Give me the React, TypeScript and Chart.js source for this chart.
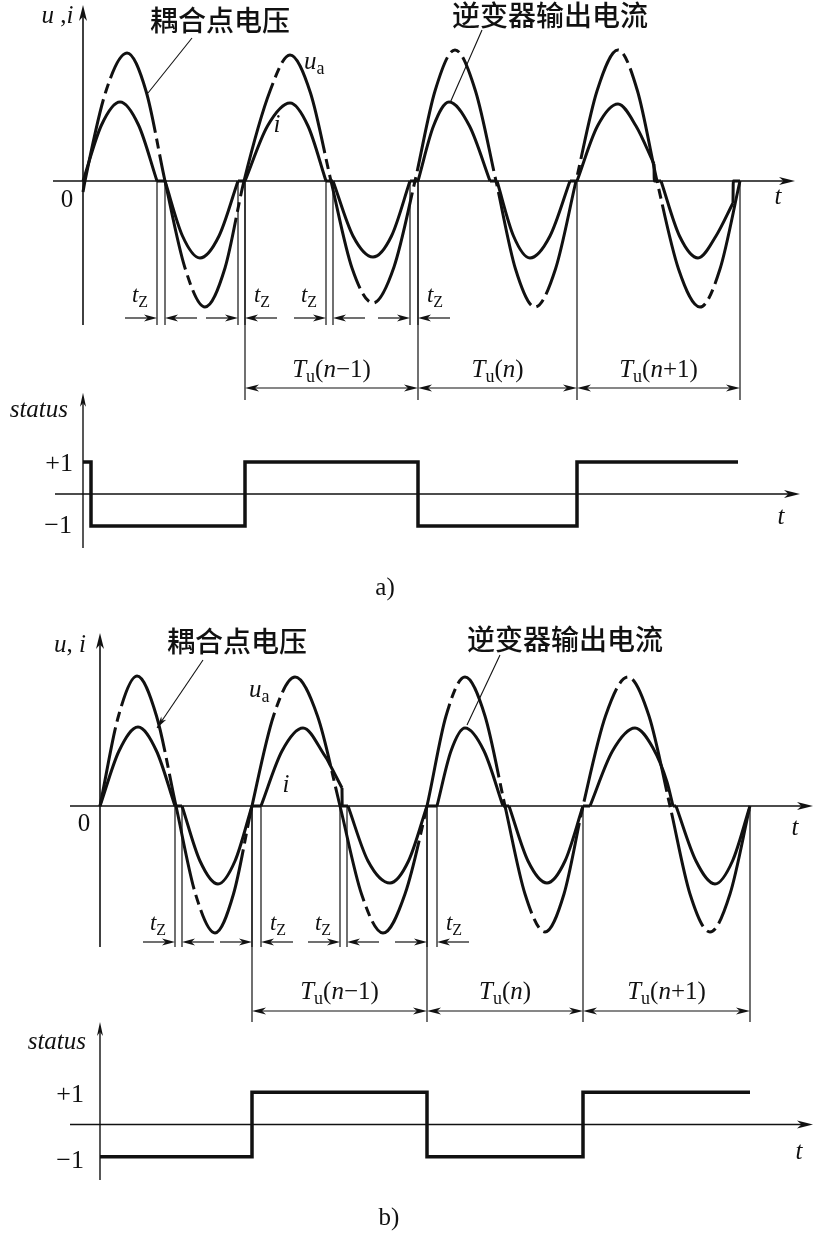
import React, { useEffect, useRef } from "react";
import { Chart, registerables } from "chart.js";

Chart.register(...registerables);

const INK = "#111";
const SERIF = '"Liberation Serif", "Times New Roman", serif';
const CJK = '"Noto Sans CJK SC", "Noto Sans", sans-serif';

// ---------------- panel a) data (t in arbitrary time units) ----------------
const A_U_T = [0, 0.2, 2.3, 4.4, 6.3, 8.2, 10.2, 12.2, 14.2, 16.1, 18.7, 20.7, 22.75, 24.8, 26.9, 29.0, 31.1, 33.2, 35.2, 37.2, 39.25, 41.3, 43.25, 45.2, 47.25, 49.3, 51.4, 53.5, 55.45, 57.4, 59.55, 61.7, 63.7, 65.7];
const A_U_V = [-0.11, 0, 0.9, 1.28, 0.9, 0, -0.87, -1.26, -0.87, 0, 0.9, 1.26, 0.88, 0, -0.87, -1.22, -0.86, 0, 0.9, 1.31, 0.9, 0, -0.88, -1.26, -0.88, 0, 0.9, 1.31, 0.9, 0, -0.88, -1.26, -0.88, 0];

const A_I_T = [
  0, 1.85, 3.7, 5.55, 7.4, 7.4, 7.4, 8.2, 8.2,
  8.2, 9.95, 11.7, 13.6, 15.5, 15.5, 15.5, 16.2, 16.2,
  16.2, 18.45, 20.7, 22.5, 24.3, 24.3, 24.3, 25.0, 25.0,
  25.0, 27.0, 29.0, 30.85, 32.7, 32.7, 32.7, 33.5, 33.5,
  33.5, 35.05, 36.6, 38.65, 40.7, 40.7, 40.7, 41.4, 41.4,
  41.4, 43.05, 44.7, 46.7, 48.7, 48.7, 48.7, 49.4, 49.4,
  49.4, 51.45, 53.5, 55.3, 57.1, 57.1, 57.1, 57.13, 57.8, 57.8,
  57.8, 59.65, 61.5, 63.3, 65.0, 65.0, 65.0, 65.03, 65.7,
];
const A_I_V = [
  0, 0.56, 0.79, 0.56, 0, null, 0, 0, null,
  0, -0.55, -0.77, -0.55, 0, null, 0, 0, null,
  0, 0.55, 0.78, 0.55, 0, null, 0, 0, null,
  0, -0.55, -0.76, -0.55, 0, null, 0, 0, null,
  0, 0.55, 0.79, 0.55, 0, null, 0, 0, null,
  0, -0.55, -0.77, -0.55, 0, null, 0, 0, null,
  0, 0.55, 0.77, 0.55, 0.17, null, 0.17, 0, 0, null,
  0, -0.55, -0.77, -0.55, -0.22, null, -0.22, 0, 0,
];
const A_TZ = [7.4, 8.2, 15.5, 16.2, 24.3, 25.0, 32.7, 33.5];
const A_TU = [16.2, 33.5, 49.4, 65.7];
const A_S_T = [0, 0.8, 16.2, 33.5, 49.4, 65.5];
const A_S_V = [1, -1, 1, -1, 1, 1];

// ---------------- panel b) data ----------------
const B_U_T = [0, 1.85, 3.7, 5.65, 7.6, 9.55, 11.5, 13.35, 15.2, 17.35, 19.5, 21.75, 24.0, 26.15, 28.3, 30.5, 32.7, 34.6, 36.5, 38.5, 40.5, 42.5, 44.5, 46.4, 48.3, 50.55, 52.8, 54.9, 57.0, 59.0, 61.0, 63.0, 65.0];
const B_U_V = [0, 0.9, 1.3, 0.9, 0, -0.88, -1.27, -0.88, 0, 0.9, 1.29, 0.9, 0, -0.88, -1.27, -0.88, 0, 0.9, 1.29, 0.9, 0, -0.88, -1.26, -0.88, 0, 0.9, 1.29, 0.9, 0, -0.88, -1.26, -0.88, 0];

const B_I_T = [
  0, 1.9, 3.8, 5.65, 7.5, 7.5, 7.5, 8.2, 8.2,
  8.2, 10.0, 11.8, 13.5, 15.2, 15.2, 15.2, 16.1, 16.1,
  16.1, 18.2, 20.3, 22.7, 22.7, 22.7, 24.2, 24.2, 24.2, 24.22, 24.8, 24.8,
  24.8, 26.8, 29.0, 30.85, 32.7, 32.7, 32.7, 33.7, 33.7,
  33.7, 35.1, 36.5, 38.4, 40.3, 40.3, 40.3, 40.9, 40.9,
  40.9, 42.8, 44.7, 46.5, 48.3, 48.3, 48.3, 49.0, 49.0,
  49.0, 51.25, 53.5, 55.3, 56.7, 57.3, 57.3, 57.3, 57.6, 57.6,
  57.6, 59.6, 61.5, 63.25, 65.0,
];
const B_I_V = [
  0, 0.55, 0.79, 0.55, 0, null, 0, 0, null,
  0, -0.55, -0.78, -0.55, 0, null, 0, 0, null,
  0, 0.55, 0.78, 0.47, null, 0.47, 0.18, null, 0.18, 0, 0, null,
  0, -0.55, -0.77, -0.55, 0, null, 0, 0, null,
  0, 0.55, 0.78, 0.55, 0, null, 0, 0, null,
  0, -0.55, -0.77, -0.55, 0, null, 0, 0, null,
  0, 0.55, 0.78, 0.58, 0.24, 0, null, 0, 0, null,
  0, -0.55, -0.78, -0.55, 0,
];
const B_TZ = [7.5, 8.2, 15.2, 16.1, 24.0, 24.7, 32.7, 33.7];
const B_TU = [15.2, 32.7, 48.3, 65.0];
const B_S_T = [0, 15.2, 32.7, 48.3, 65.0];
const B_S_V = [-1, 1, -1, 1, 1];

// ---------------- labels ----------------
const CJK_LABELS = ["耦合点电压", "逆变器输出电流"];
const TU_ARGS = [["n", "−1"], ["n", ""], ["n", "+1"]];
const STATUS_TICKS = ["+1", "−1"];

type Part = { s: string; it?: boolean; sub?: boolean };

function pts(T: number[], V: (number | null)[]) {
  return T.map((t, k) => ({ x: t, y: V[k] }));
}

function seg(ctx: CanvasRenderingContext2D, x1: number, y1: number, x2: number, y2: number, w: number) {
  ctx.lineWidth = w;
  ctx.beginPath();
  ctx.moveTo(x1, y1);
  ctx.lineTo(x2, y2);
  ctx.stroke();
}

function head(ctx: CanvasRenderingContext2D, x: number, y: number, ang: number, len = 13, hw = 3.5) {
  const c = Math.cos(ang), s = Math.sin(ang);
  const bx = x - c * len, by = y - s * len;
  const nx = x - c * len * 0.72, ny = y - s * len * 0.72;
  ctx.beginPath();
  ctx.moveTo(x, y);
  ctx.lineTo(bx - s * hw, by + c * hw);
  ctx.lineTo(nx, ny);
  ctx.lineTo(bx + s * hw, by - c * hw);
  ctx.closePath();
  ctx.fill();
}

function rich(ctx: CanvasRenderingContext2D, parts: Part[], x: number, y: number, size: number, align = "center") {
  const font = (p: Part) => `${p.it ? "italic " : ""}${p.sub ? Math.round(size * 0.7) : size}px ${SERIF}`;
  const ws = parts.map((p) => {
    ctx.font = font(p);
    return ctx.measureText(p.s).width;
  });
  const w = ws.reduce((a, b) => a + b, 0);
  let cx = align === "center" ? x - w / 2 : align === "right" ? x - w : x;
  ctx.textAlign = "left";
  ctx.textBaseline = "middle";
  parts.forEach((p, k) => {
    ctx.font = font(p);
    ctx.fillText(p.s, cx, p.sub ? y + size * 0.3 : y);
    cx += ws[k];
  });
}

type TopCfg = {
  xAxis: [number, number];
  yAxis: [number, number];
  ui: [number, number];
  uiParts: Part[];
  zero: [number, number];
  tLab: [number, number];
  cjk: { t: number; v: number; from: [number, number]; to: [number, number]; arrow: boolean }[];
  ua: [number, number];
  iLab: [number, number];
  tz: number[];
  tzBottom: number;
  tzArrowV: number;
  tzLabelV: number;
  tu: number[];
  tuBottom: number;
  tuArrowV: number;
  tuLabelV: number;
};

function drawTop(c: any, cfg: TopCfg, over: boolean) {
  const ctx: CanvasRenderingContext2D = c.ctx;
  const X = (t: number) => c.scales.x.getPixelForValue(t);
  const Y = (v: number) => c.scales.y.getPixelForValue(v);
  ctx.save();
  ctx.strokeStyle = INK;
  ctx.fillStyle = INK;
  if (!over) {
    seg(ctx, X(cfg.xAxis[0]), Y(0), X(cfg.xAxis[1]) - 6, Y(0), 1.4);
    head(ctx, X(cfg.xAxis[1]), Y(0), 0, 16, 4);
    seg(ctx, X(0), Y(cfg.yAxis[1]), X(0), Y(cfg.yAxis[0]) + 6, 1.6);
    head(ctx, X(0), Y(cfg.yAxis[0]), -Math.PI / 2, 16, 4);
    cfg.tz.forEach((t) => seg(ctx, X(t), Y(0), X(t), Y(cfg.tzBottom), 1.2));
    cfg.tu.forEach((t) => seg(ctx, X(t), Y(0), X(t), Y(cfg.tuBottom), 1.2));
    ctx.restore();
    return;
  }
  // t_z dimension arrows
  for (let k = 0; k < cfg.tz.length; k += 2) {
    const a = X(cfg.tz[k]);
    const b = X(cfg.tz[k + 1]);
    const y = Y(cfg.tzArrowV);
    seg(ctx, a - 32, y, a - 4, y, 1.2);
    head(ctx, a, y, 0, 13, 3.5);
    seg(ctx, b + 32, y, b + 4, y, 1.2);
    head(ctx, b, y, Math.PI, 13, 3.5);
    const lx = (k / 2) % 2 === 0 ? a - 17 : b + 17;
    rich(ctx, [{ s: "t", it: true }, { s: "Z", sub: true }], lx, Y(cfg.tzLabelV), 23);
  }
  // T_u dimension arrows
  for (let k = 0; k < cfg.tu.length - 1; k++) {
    const a = X(cfg.tu[k]);
    const b = X(cfg.tu[k + 1]);
    const y = Y(cfg.tuArrowV);
    seg(ctx, a + 4, y, b - 4, y, 1.2);
    head(ctx, a, y, Math.PI, 14, 3.5);
    head(ctx, b, y, 0, 14, 3.5);
    const [n, rest] = TU_ARGS[k];
    rich(
      ctx,
      [{ s: "T", it: true }, { s: "u", sub: true }, { s: "(" }, { s: n, it: true }, { s: rest }, { s: ")" }],
      (a + b) / 2,
      Y(cfg.tuLabelV),
      25
    );
  }
  rich(ctx, cfg.uiParts, X(cfg.ui[0]), Y(cfg.ui[1]), 25);
  rich(ctx, [{ s: "0" }], X(cfg.zero[0]), Y(cfg.zero[1]), 25);
  rich(ctx, [{ s: "t", it: true }], X(cfg.tLab[0]), Y(cfg.tLab[1]), 25);
  rich(ctx, [{ s: "u", it: true }, { s: "a", sub: true }], X(cfg.ua[0]), Y(cfg.ua[1]), 25, "left");
  rich(ctx, [{ s: "i", it: true }], X(cfg.iLab[0]), Y(cfg.iLab[1]), 25);
  cfg.cjk.forEach((l, k) => {
    ctx.font = `500 28px ${CJK}`;
    ctx.textAlign = "center";
    ctx.textBaseline = "middle";
    ctx.fillText(CJK_LABELS[k], X(l.t), Y(l.v));
    const x1 = X(l.from[0]), y1 = Y(l.from[1]), x2 = X(l.to[0]), y2 = Y(l.to[1]);
    seg(ctx, x1, y1, x2, y2, 1.1);
    if (l.arrow) head(ctx, x2, y2, Math.atan2(y2 - y1, x2 - x1), 12, 3);
  });
  ctx.restore();
}

type StatusCfg = {
  xAxis: [number, number];
  yAxis: [number, number];
  status: [number, number];
  plus: [number, number];
  minus: [number, number];
  tLab: [number, number];
  cap: [number, number];
  capText: string;
};

function drawStatus(c: any, cfg: StatusCfg, over: boolean) {
  const ctx: CanvasRenderingContext2D = c.ctx;
  const X = (t: number) => c.scales.x.getPixelForValue(t);
  const Y = (v: number) => c.scales.y.getPixelForValue(v);
  ctx.save();
  ctx.strokeStyle = INK;
  ctx.fillStyle = INK;
  if (!over) {
    seg(ctx, X(cfg.xAxis[0]), Y(0), X(cfg.xAxis[1]) - 6, Y(0), 1.5);
    head(ctx, X(cfg.xAxis[1]), Y(0), 0, 16, 4);
    seg(ctx, X(0), Y(cfg.yAxis[1]), X(0), Y(cfg.yAxis[0]) + 6, 1.4);
    head(ctx, X(0), Y(cfg.yAxis[0]), -Math.PI / 2, 14, 3);
    ctx.restore();
    return;
  }
  rich(ctx, [{ s: "status", it: true }], X(cfg.status[0]), Y(cfg.status[1]), 25, "right");
  rich(ctx, [{ s: STATUS_TICKS[0] }], X(cfg.plus[0]), Y(cfg.plus[1]), 26, "right");
  rich(ctx, [{ s: STATUS_TICKS[1] }], X(cfg.minus[0]), Y(cfg.minus[1]), 26, "right");
  rich(ctx, [{ s: "t", it: true }], X(cfg.tLab[0]), Y(cfg.tLab[1]), 25);
  rich(ctx, [{ s: cfg.capText }], X(cfg.cap[0]), Y(cfg.cap[1]), 25);
  ctx.restore();
}

function build(canvas: HTMLCanvasElement, datasets: any[], xr: number[], yr: number[], draw: (c: any, over: boolean) => void) {
  return new Chart(canvas, {
    type: "line",
    data: { datasets },
    options: {
      animation: false,
      responsive: false,
      devicePixelRatio: 1,
      events: [],
      layout: { padding: 0 },
      plugins: { legend: { display: false }, tooltip: { enabled: false } },
      scales: {
        x: { type: "linear", min: xr[0], max: xr[1], display: false },
        y: { type: "linear", min: yr[0], max: yr[1], display: false },
      },
      elements: { point: { radius: 0, hoverRadius: 0 } },
    } as any,
    plugins: [
      {
        id: "deco",
        beforeDatasetsDraw: (c: any) => draw(c, false),
        afterDatasetsDraw: (c: any) => draw(c, true),
      },
    ],
  });
}

function waveSets(uT: number[], uV: number[], iT: number[], iV: (number | null)[], dashOffset: number) {
  return [
    {
      label: "u_a",
      data: pts(uT, uV),
      borderColor: INK,
      borderWidth: 3,
      borderDash: [118, 6, 10, 6],
      borderDashOffset: dashOffset,
      cubicInterpolationMode: "monotone",
      fill: false,
      pointRadius: 0,
    },
    {
      label: "i",
      data: pts(iT, iV),
      borderColor: INK,
      borderWidth: 3,
      cubicInterpolationMode: "monotone",
      spanGaps: false,
      fill: false,
      pointRadius: 0,
    },
  ];
}

function statusSet(T: number[], V: number[]) {
  return [
    {
      label: "status",
      data: pts(T, V),
      borderColor: INK,
      borderWidth: 3.5,
      stepped: true,
      borderJoinStyle: "miter",
      fill: false,
      pointRadius: 0,
    },
  ];
}

const TOP_A: TopCfg = {
  xAxis: [-3.0, 71.2],
  yAxis: [1.76, -1.44],
  ui: [-2.55, 1.65],
  uiParts: [{ s: "u", it: true }, { s: " ," }, { s: "i", it: true }],
  zero: [-1.6, -0.19],
  tLab: [69.5, -0.16],
  cjk: [
    { t: 13.7, v: 1.61, from: [10.9, 1.43], to: [6.5, 0.88], arrow: false },
    { t: 46.7, v: 1.66, from: [39.9, 1.51], to: [36.7, 0.78], arrow: false },
  ],
  ua: [22.1, 1.19],
  iLab: [19.4, 0.56],
  tz: A_TZ,
  tzBottom: -1.44,
  tzArrowV: -1.37,
  tzLabelV: -1.15,
  tu: A_TU,
  tuBottom: -2.19,
  tuArrowV: -2.07,
  tuLabelV: -1.89,
};

const TOP_B: TopCfg = {
  xAxis: [-3.0, 71.3],
  yAxis: [1.73, -1.41],
  ui: [-3.0, 1.61],
  uiParts: [{ s: "u", it: true }, { s: ", " }, { s: "i", it: true }],
  zero: [-1.6, -0.18],
  tLab: [69.5, -0.22],
  cjk: [
    { t: 13.7, v: 1.65, from: [10.3, 1.46], to: [5.7, 0.78], arrow: true },
    { t: 46.5, v: 1.67, from: [40.0, 1.51], to: [36.7, 0.81], arrow: false },
  ],
  ua: [14.9, 1.16],
  iLab: [18.6, 0.21],
  tz: B_TZ,
  tzBottom: -1.41,
  tzArrowV: -1.36,
  tzLabelV: -1.18,
  tu: B_TU,
  tuBottom: -2.16,
  tuArrowV: -2.05,
  tuLabelV: -1.86,
};

const STAT_A: StatusCfg = {
  xAxis: [-2.8, 71.7],
  yAxis: [3.16, -1.69],
  status: [-1.5, 2.625],
  plus: [-1.0, 0.94],
  minus: [-1.1, -1.0],
  tLab: [69.8, -0.72],
  cap: [30.2, -2.94],
  capText: "a)",
};

const STAT_B: StatusCfg = {
  xAxis: [-3.0, 71.3],
  yAxis: [3.18, -1.72],
  status: [-1.4, 2.56],
  plus: [-1.6, 0.91],
  minus: [-1.6, -1.13],
  tLab: [69.9, -0.88],
  cap: [28.9, -2.9],
  capText: "b)",
};

export default function App() {
  const r1 = useRef<HTMLCanvasElement>(null);
  const r2 = useRef<HTMLCanvasElement>(null);
  const r3 = useRef<HTMLCanvasElement>(null);
  const r4 = useRef<HTMLCanvasElement>(null);

  useEffect(() => {
    const charts = [
      build(r1.current!, waveSets(A_U_T, A_U_V, A_I_T, A_I_V, 23), [-8.3, 73.2], [-2.29, 1.81], (c, o) => drawTop(c, TOP_A, o)),
      build(r2.current!, statusSet(A_S_T, A_S_V), [-8.3, 73.2], [-3.469, 3.406], (c, o) => drawStatus(c, STAT_A, o)),
      build(r3.current!, waveSets(B_U_T, B_U_V, B_I_T, B_I_V, 38), [-10, 71.5], [-2.24, 2.01], (c, o) => drawTop(c, TOP_B, o)),
      build(r4.current!, statusSet(B_S_T, B_S_V), [-10, 71.5], [-3.395, 3.395], (c, o) => drawStatus(c, STAT_B, o)),
    ];
    return () => charts.forEach((ch) => ch.destroy());
  }, []);

  const cs = (top: number): React.CSSProperties => ({ position: "absolute", left: 0, top });
  return (
    <div style={{ position: "absolute", left: 0, top: 0, width: 815, height: 1234, background: "#fff", overflow: "hidden" }}>
      <canvas ref={r1} width={815} height={410} style={cs(0)} />
      <canvas ref={r2} width={815} height={220} style={cs(385)} />
      <canvas ref={r3} width={815} height={425} style={cs(605)} />
      <canvas ref={r4} width={815} height={219} style={cs(1015)} />
    </div>
  );
}
